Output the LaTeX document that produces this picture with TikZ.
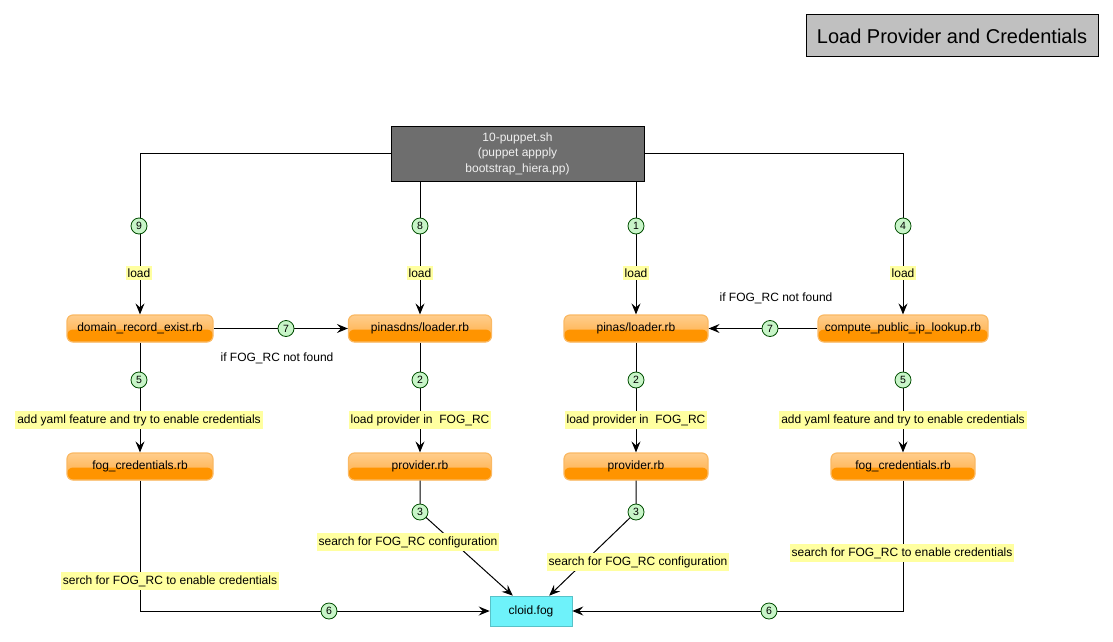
\documentclass[tikz,border=0pt]{standalone}
\usepackage{fontspec}
\setmainfont{Liberation Sans}
\usetikzlibrary{arrows.meta,calc}
\definecolor{orgtop}{RGB}{255,205,140}
\definecolor{orgmid}{RGB}{255,170,60}
\definecolor{orgbot}{RGB}{255,148,0}
\definecolor{orgline}{RGB}{250,185,100}
\definecolor{lblyel}{RGB}{255,255,160}
\definecolor{numgreen}{RGB}{200,245,200}
\definecolor{cyanbox}{RGB}{110,242,250}
\definecolor{topgray}{RGB}{110,110,110}
\definecolor{titlegray}{RGB}{192,192,192}
\tikzset{
  txt/.style={font=\fontsize{12}{14}\selectfont},
  orangebox/.style={txt, rounded corners=6pt, draw=orgline, line width=1.2pt,
    top color=orgtop, bottom color=orgmid, minimum height=27pt, inner sep=2pt,
    path picture={\fill[orgbot] ([yshift=-1pt]path picture bounding box.west) rectangle (path picture bounding box.south east);}},
  lbl/.style={txt, fill=lblyel, inner xsep=2pt, inner ysep=3pt},
  plain/.style={txt, inner sep=1pt},
  num/.style={circle, draw=black!70!green, fill=numgreen, minimum size=16pt, inner sep=0pt, line width=0.8pt, font=\fontsize{10.5}{11}\selectfont},
  conn/.style={line width=1pt, draw=black},
  arr/.style={conn, -{Stealth[length=11pt,width=9pt,inset=4pt]}},
}
\begin{document}
\begin{tikzpicture}[x=1pt,y=-1pt]
\useasboundingbox (0,0) rectangle (1113,642);
% title
\node[draw=black, line width=1pt, fill=titlegray, minimum width=292pt, minimum height=42pt, inner sep=0pt, font=\fontsize{20}{23}\selectfont] (title) at (952,36) {Load Provider and Credentials};
% top box
\node[draw=black, line width=1pt, fill=topgray, text=white!94!black, minimum width=253pt, minimum height=55pt, inner sep=0pt, align=center, font=\fontsize{12}{15.5}\selectfont] (top) at (517.5,153.5) {10-puppet.sh\\(puppet appply\\bootstrap\_hiera.pp)};
% row 1
\node[orangebox, minimum width=146pt] (dre) at (140,328.5) {domain\_record\_exist.rb};
\node[orangebox, minimum width=143pt] (pd) at (420,328.5) {pinasdns/loader.rb};
\node[orangebox, minimum width=144pt] (pl) at (636,328.5) {pinas/loader.rb};
\node[orangebox, minimum width=170pt] (cpl) at (903,328.5) {compute\_public\_ip\_lookup.rb};
% row 2
\node[orangebox, minimum width=146pt] (fc1) at (140,466.5) {fog\_credentials.rb};
\node[orangebox, minimum width=143pt] (pr1) at (420,466.5) {provider.rb};
\node[orangebox, minimum width=144pt] (pr2) at (636,466.5) {provider.rb};
\node[orangebox, minimum width=144pt] (fc2) at (903,466.5) {fog\_credentials.rb};
% cloid
\node[txt, draw=cyanbox!80!black, line width=0.6pt, fill=cyanbox, minimum width=82pt, minimum height=30pt, inner sep=0pt] (cl) at (531,611) {cloid.fog};
\coordinate (tipA) at ($(cl.north west)!0.28!(cl.north east)$);
\coordinate (tipB) at ($(cl.north west)!0.72!(cl.north east)$);
\coordinate (n3a) at (420,512);
\coordinate (n3b) at (636,512);
% connectors
\draw[arr] (top.west) -| (dre.north);
\draw[arr] (top.south -| pd.north) -- (pd.north);
\draw[arr] (top.south -| pl.north) -- (pl.north);
\draw[arr] (top.east) -| (cpl.north);
\draw[arr] (dre.east) -- (pd.west);
\draw[arr] (cpl.west) -- (pl.east);
\draw[arr] (dre.south) -- (fc1.north);
\draw[arr] (pd.south) -- (pr1.north);
\draw[arr] (pl.south) -- (pr2.north);
\draw[arr] (cpl.south) -- (fc2.north);
\draw[arr] (pr1.south) -- (n3a) -- (tipA);
\draw[arr] (pr2.south) -- (n3b) -- (tipB);
\draw[arr] (fc1.south) |- (cl.west);
\draw[arr] (fc2.south) |- (cl.east);
% numbers
\node[num] (c9) at (139,226) {9};
\node[num] (c8) at (420,226) {8};
\node[num] (c1) at (636,226) {1};
\node[num] (c4) at (903,226) {4};
\node[num] (c7a) at (286,328.5) {7};
\node[num] (c7b) at (770,328.5) {7};
\node[num] (c5a) at (139,380) {5};
\node[num] (c2a) at (420,380) {2};
\node[num] (c2b) at (636,380) {2};
\node[num] (c5b) at (903,380) {5};
\node[num] (c3a) at (n3a) {3};
\node[num] (c3b) at (n3b) {3};
\node[num] (c6a) at (329,611) {6};
\node[num] (c6b) at (769,611) {6};
% labels
\node[lbl] (l9) at (139,273) {load};
\node[lbl] (l8) at (420,273) {load};
\node[lbl] (l1) at (636,273) {load};
\node[lbl] (l4) at (903,273) {load};
\node[plain] (f7a) at (277,358) {if FOG\_RC not found};
\node[plain] (f7b) at (776,298) {if FOG\_RC not found};
\node[lbl] (l5a) at (139,420) {add yaml feature and try to enable credentials};
\node[lbl] (l2a) at (420,420) {load provider in\ \ FOG\_RC};
\node[lbl] (l2b) at (636,420) {load provider in\ \ FOG\_RC};
\node[lbl] (l5b) at (903,420) {add yaml feature and try to enable credentials};
\node[lbl] (l3a) at (408,542) {search for FOG\_RC configuration};
\node[lbl] (l3b) at (638,562) {search for FOG\_RC configuration};
\node[lbl] (l6a) at (170,581) {serch for FOG\_RC to enable credentials};
\node[lbl] (l6b) at (902,553) {search for FOG\_RC to enable credentials};
\end{tikzpicture}
\end{document}
